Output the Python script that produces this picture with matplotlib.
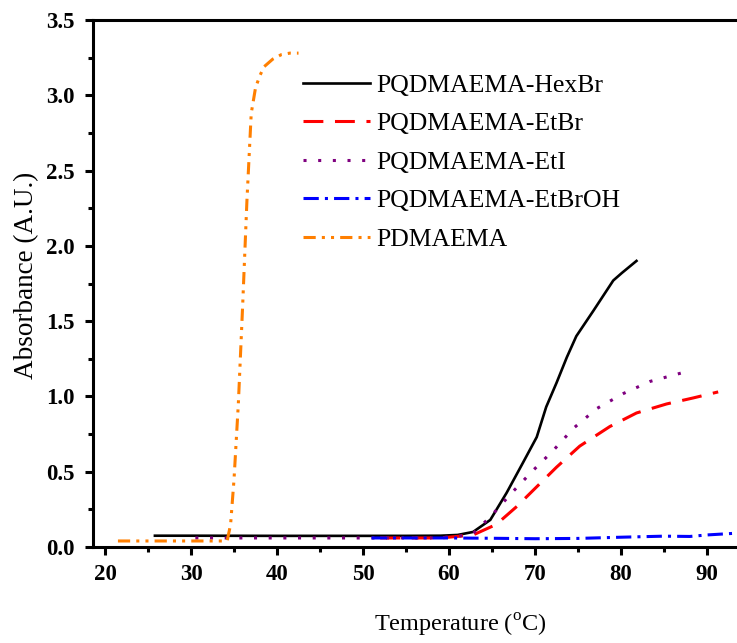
import matplotlib
matplotlib.use('Agg')
import matplotlib.pyplot as plt
from matplotlib.ticker import MultipleLocator

plt.rcParams['font.family'] = ['Liberation Serif', 'DejaVu Serif']
plt.rcParams['mathtext.fontset'] = 'custom'
plt.rcParams['mathtext.rm'] = 'Liberation Serif'

# PQDMAEMA-HexBr
t_hex = [25.8, 30, 40, 50, 55, 59, 61, 62.8, 64.8, 66.7, 68.6, 70.2, 71.3, 72.5,
         73.7, 74.8, 76.8, 79.1, 80.1, 81.8]
a_hex = [0.075, 0.075, 0.074, 0.074, 0.074, 0.075, 0.08, 0.10, 0.18, 0.36, 0.56,
         0.73, 0.93, 1.09, 1.26, 1.40, 1.57, 1.77, 1.82, 1.90]

# PQDMAEMA-EtBr
t_etbr = [52, 55, 59, 62.8, 65.5, 67.9, 70.2, 72.5, 75.2, 78.7, 81.8, 85.3, 88.4, 91.3]
a_etbr = [0.06, 0.06, 0.06, 0.08, 0.15, 0.27, 0.40, 0.53, 0.67, 0.80, 0.89, 0.95,
          0.99, 1.03]

# PQDMAEMA-EtI
t_eti = [30.5, 40, 50, 58, 61, 62.8, 64.8, 67.3, 69.8, 72.1, 74.5, 77.2, 80.3, 83.4, 87.3]
a_eti = [0.06, 0.06, 0.06, 0.06, 0.07, 0.09, 0.20, 0.36, 0.51, 0.64, 0.79, 0.92,
         1.02, 1.10, 1.16]

# PQDMAEMA-EtBrOH
t_ohb = [51, 60, 65, 70, 75, 80, 85, 88, 90, 93.5]
a_ohb = [0.06, 0.06, 0.058, 0.055, 0.057, 0.065, 0.072, 0.07, 0.08, 0.092]

# PDMAEMA
t_pd = [21.5, 25, 30, 34.2, 34.6, 35.0, 35.5, 36.0, 36.5, 37.0, 37.5, 38.0, 38.5,
        39.5, 40.5, 41.5, 42.5]
a_pd = [0.04, 0.04, 0.04, 0.04, 0.15, 0.45, 0.95, 1.6, 2.3, 2.88, 3.05, 3.13, 3.19,
        3.24, 3.27, 3.28, 3.28]

fig = plt.figure(figsize=(7.37, 6.43), dpi=100)
# axes run past the right edge of the picture (the original is cropped there)
ax = fig.add_axes([93 / 737, 96 / 643, 684 / 737, 527 / 643])

ax.plot(t_hex, a_hex, color='black', lw=1.9, label='PQDMAEMA-HexBr')
ax.plot(t_etbr, a_etbr, color='red', lw=2.2, ls=(0, (6.5, 3.8)), label='PQDMAEMA-EtBr')
ax.plot(t_eti, a_eti, color='#7f007f', lw=2.2, ls=(0, (1, 3.8)), label='PQDMAEMA-EtI')
ax.plot(t_ohb, a_ohb, color='blue', lw=2.2, ls=(0, (5, 2, 1, 2)), label='PQDMAEMA-EtBrOH')
ax.plot(t_pd, a_pd, color='#ff7f00', lw=2.2, ls=(0, (4, 2, 1, 2, 1, 2)), label='PDMAEMA')

ax.set_xlim(18.6, 98.14)
ax.set_ylim(0, 3.5)
ax.xaxis.set_major_locator(MultipleLocator(10))
ax.xaxis.set_minor_locator(MultipleLocator(5))
ax.yaxis.set_major_locator(MultipleLocator(0.5))
ax.yaxis.set_minor_locator(MultipleLocator(0.25))
ax.yaxis.set_major_formatter(lambda v, p: f'{v:.1f}')
ax.xaxis.set_major_formatter(lambda v, p: f'{v:.0f}' if v <= 90 else '')

ax.spines['right'].set_visible(False)
for s in ('left', 'bottom', 'top'):
    ax.spines[s].set_linewidth(2.2)
ax.tick_params(which='major', direction='out', length=6, width=2.2, labelsize=16.5)
ax.tick_params(axis='y', which='major', pad=7)
ax.tick_params(axis='x', which='major', pad=6)
ax.tick_params(which='minor', direction='out', length=3.5, width=2.2)
for lab in ax.get_xticklabels() + ax.get_yticklabels():
    lab.set_fontweight('bold')

ax.set_xlabel(r'Temperature ($^{\rm o}$C)', fontsize=17.5)
ax.set_ylabel('Absorbance (A.U.)', fontsize=19.5)
ax.xaxis.set_label_coords((460 - 93) / 684, -(612 - 547) / 527)
ax.yaxis.set_label_coords(-(93 - 39) / 684, (547 - 275) / 527)

ax.legend(loc='upper left', bbox_to_anchor=(303 / 737, 1 - 74 / 643),
          bbox_transform=fig.transFigure, frameon=False, fontsize=18.5,
          handlelength=2.6, handletextpad=0.27, labelspacing=0.6,
          borderpad=0, borderaxespad=0)

fig.savefig('out.png', dpi=100)
